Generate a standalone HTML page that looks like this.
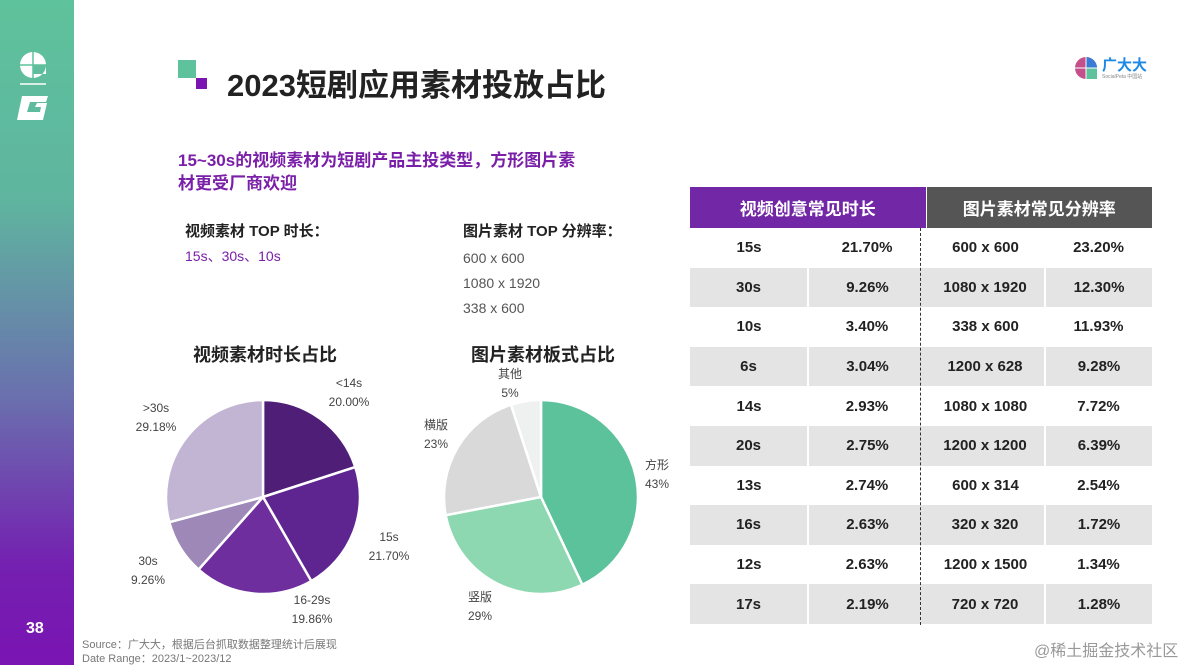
<!DOCTYPE html>
<html><head><meta charset="utf-8"><style>
body{margin:0;width:1200px;height:665px;overflow:hidden;background:#fff;font-family:"Liberation Sans","Noto Sans CJK SC",sans-serif;position:relative}
.a{position:absolute;white-space:nowrap}
#side{left:0;top:0;width:74px;height:665px;background:linear-gradient(#5ec29c 0%,#5fb59f 30%,#6a6fae 60%,#7420b0 85%,#7a14b3 100%)}
.tbl{position:absolute;left:690px;top:187px;width:462px;border-collapse:collapse}
</style></head><body>
<div class="a" id="side">
 <svg width="74" height="130" style="position:absolute;left:0;top:0">
  <path d="M33 52 A13 13 0 1 0 46 65 L46 74 L33 74 Z" fill="#fff"/>
  <path d="M33 52 A13 13 0 0 1 46 65 L33 65 Z" fill="#fff"/>
  <line x1="33" y1="52" x2="33" y2="78" stroke="#5ec29c" stroke-width="1.5"/>
  <line x1="20" y1="65" x2="46" y2="65" stroke="#5ec29c" stroke-width="1.5"/>
  <line x1="20" y1="84" x2="46" y2="84" stroke="#fff" stroke-width="1.5"/>
  <path d="M22 96 L48 96 L46 102 L30 102 L27 112 L40 112 L41 107 L35 107 L37 103 L47 103 L43 120 L17 120 Z" fill="#fff"/>
 </svg>
 <div class="a" style="left:26px;top:620px;color:#fff;font-weight:bold;font-size:16px">38</div>
</div>
<div class="a" style="left:178px;top:60px;width:18px;height:18px;background:#5ec29c"></div>
<div class="a" style="left:196px;top:78px;width:11px;height:11px;background:#7a14b3"></div>
<div class="a" style="left:227px;top:60px;font-size:31px;font-weight:bold;color:#222">2023短剧应用素材投放占比</div>
<div class="a" style="left:1074px;top:56px">
 <svg width="24" height="24" style="position:absolute;left:0;top:0"><circle cx="12" cy="12" r="11" fill="#c44f8a"/><path d="M12 1 A11 11 0 0 1 23 12 L12 12Z" fill="#3a7bd5"/><path d="M23 12 L23 23 L12 23 L12 12Z" fill="#5ec29c"/><line x1="12" y1="0" x2="12" y2="24" stroke="#fff"/><line x1="0" y1="12" x2="24" y2="12" stroke="#fff"/></svg>
 <div class="a" style="left:28px;top:-2px;color:#1e88e5;font-weight:bold;font-size:15px">广大大</div>
 <div class="a" style="left:28px;top:17px;color:#888;font-size:5px">SocialPeta 中国站</div>
</div>
<div class="a" style="left:178px;top:149px;font-size:17px;font-weight:bold;color:#7a1fa8;line-height:23px">15~30s的视频素材为短剧产品主投类型，方形图片素<br>材更受厂商欢迎</div>
<div class="a" style="left:185px;top:220px;font-size:15px;font-weight:bold;color:#222">视频素材 TOP 时长：</div>
<div class="a" style="left:185px;top:246px;font-size:14px;color:#7a1fa8">15s、30s、10s</div>
<div class="a" style="left:463px;top:220px;font-size:15px;font-weight:bold;color:#222">图片素材 TOP 分辨率：</div>
<div class="a" style="left:463px;top:246px;font-size:14px;color:#555;line-height:25px">600 x 600<br>1080 x 1920<br>338 x 600</div>
<div class="a" style="left:193px;top:341px;font-size:18px;font-weight:bold;color:#222">视频素材时长占比</div>
<div class="a" style="left:471px;top:341px;font-size:18px;font-weight:bold;color:#222">图片素材板式占比</div>
<svg id="pies" class="a" style="left:0;top:0" width="690" height="665"></svg>
<table class="tbl" id="tbl"></table>
<div class="a" style="left:920px;top:228px;height:397px;border-left:1.5px dashed #333"></div>
<div class="a" style="left:82px;top:638px;font-size:11px;color:#777;line-height:14px">Source：广大大，根据后台抓取数据整理统计后展现<br>Date Range：2023/1~2023/12</div>
<div class="a" style="left:1034px;top:637px;font-size:16px;color:#999">@稀土掘金技术社区</div>
<script>
const videoCats=["<14s","15s","16-29s","30s",">30s"];
const videoVals=[20.00,21.70,19.86,9.26,29.18];
const videoLabels=["20.00%","21.70%","19.86%","9.26%","29.18%"];
const imgCats=["方形","竖版","横版","其他"];
const imgVals=[43,29,23,5];
const imgLabels=["43%","29%","23%","5%"];
const durCats=["15s","30s","10s","6s","14s","20s","13s","16s","12s","17s"];
const durVals=["21.70%","9.26%","3.40%","3.04%","2.93%","2.75%","2.74%","2.63%","2.63%","2.19%"];
const resCats=["600 x 600","1080 x 1920","338 x 600","1200 x 628","1080 x 1080","1200 x 1200","600 x 314","320 x 320","1200 x 1500","720 x 720"];
const resVals=["23.20%","12.30%","11.93%","9.28%","7.72%","6.39%","2.54%","1.72%","1.34%","1.28%"];
// label layout (not data): x, y of first line, anchor
const videoLabelLayout=[[349,387,"middle"],[389,541,"middle"],[312,604,"middle"],[148,565,"middle"],[156,412,"middle"]];
const imgLabelLayout=[[645,469,"start"],[480,601,"middle"],[436,429,"middle"],[510,378,"middle"]];
const NS="http://www.w3.org/2000/svg";
const svg=document.getElementById('pies');
function pie(cx,cy,r,cats,vals,labs,colors,layout,name){
 const tot=vals.reduce((a,b)=>a+b,0);let acc=0;
 vals.forEach((v,i)=>{
  const a0=acc/tot*2*Math.PI;acc+=v;const a1=acc/tot*2*Math.PI;
  const p=(a)=>[cx+r*Math.sin(a),cy-r*Math.cos(a)];
  const [x0,y0]=p(a0),[x1,y1]=p(a1);
  const path=document.createElementNS(NS,'path');
  path.setAttribute('d',`M${cx},${cy} L${x0},${y0} A${r},${r} 0 ${a1-a0>Math.PI?1:0} 1 ${x1},${y1} Z`);
  path.setAttribute('fill',colors[i]);path.setAttribute('stroke','#fff');path.setAttribute('stroke-width','2.5');
  
  
  svg.appendChild(path);
  const [lx,ly,anc]=layout[i];
  [cats[i],labs[i]].forEach((t,k)=>{
   const tx=document.createElementNS(NS,'text');
   tx.setAttribute('x',lx);tx.setAttribute('y',ly+k*19);tx.setAttribute('text-anchor',anc);
   tx.setAttribute('font-size','12');tx.setAttribute('fill','#444');tx.textContent=t;
   
   
   svg.appendChild(tx);
  });
 });
}
pie(263,497,97,videoCats,videoVals,videoLabels,["#4f1f78","#5e2590","#6e2e9e","#9e88b8","#c2b4d3"],videoLabelLayout,'video-pie');
pie(541,497,97,imgCats,imgVals,imgLabels,["#5cc29b","#8dd8b0","#d9d9d9","#eef1f0"],imgLabelLayout,'image-pie');
const tbl=document.getElementById('tbl');
let h='<tr style="height:41px;color:#fff;font-size:17px;font-weight:bold"><th colspan="2" style="background:#7227a6;width:230px">视频创意常见时长</th><th colspan="2" style="background:#555;border-left:1.5px solid #fff">图片素材常见分辨率</th></tr>';
durCats.forEach((c,i)=>{
 const bg=i%2?'#e4e4e4':'#fff',bd=i%2?'2px solid #fff':'none';
 h+=`<tr style="height:39.6px;background:${bg};font-size:15px;font-weight:bold;color:#222;text-align:center"><td style="width:115px">${c}</td><td style="width:115px;border-left:${bd}">${durVals[i]}</td><td style="width:116px">${resCats[i]}</td><td style="border-left:${bd}">${resVals[i]}</td></tr>`;
});
tbl.innerHTML=h;
</script>
</body></html>
